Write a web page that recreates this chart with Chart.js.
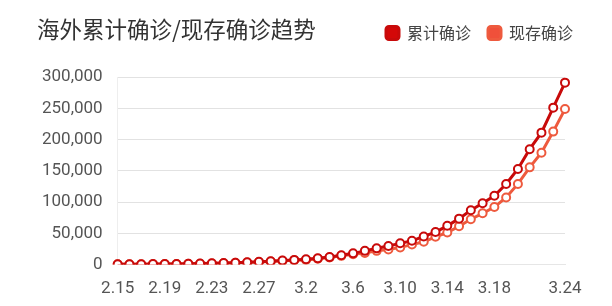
<!DOCTYPE html>
<html>
<head>
<meta charset="utf-8">
<script src="https://cdn.jsdelivr.net/npm/chart.js@4"></script>
<style>
  html, body { margin: 0; padding: 0; background: #fff; }
  #wrap { position: relative; width: 612px; height: 306px; }
  #title {
    position: absolute; left: 37px; top: 12px;
    font: 22.5px "Noto Sans CJK SC", sans-serif; color: #333;
  }
</style>
</head>
<body>
<div id="wrap">
  <div id="title">海外累计确诊/现存确诊趋势</div>
  <canvas id="trendChart" width="612" height="306"></canvas>
</div>
<script>
// 2.15 - 3.24
const dates = [
  '2.15','2.16','2.17','2.18','2.19','2.20','2.21','2.22','2.23','2.24',
  '2.25','2.26','2.27','2.28','2.29','3.1','3.2','3.3','3.4','3.5',
  '3.6','3.7','3.8','3.9','3.10','3.11','3.12','3.13','3.14','3.15',
  '3.16','3.17','3.18','3.19','3.20','3.21','3.22','3.23','3.24'
];
const totalConfirmed = [
  500, 600, 700, 800, 1000, 1100, 1300, 1600, 2000, 2500,
  3000, 3700, 4500, 5500, 6500, 7500, 8500, 10000, 12000, 15000,
  18000, 22000, 26000, 29700, 34000, 38000, 45000, 52000, 62000, 73500,
  86800, 98000, 110000, 129000, 153000, 184600, 211000, 251000, 291000
];
const currentConfirmed = [
  450, 550, 650, 750, 900, 1000, 1200, 1500, 1900, 2300,
  2800, 3400, 4200, 5100, 6000, 7000, 7500, 9500, 11500, 14000,
  16500, 18500, 22000, 24300, 27500, 32000, 36500, 44400, 51300, 61400,
  72500, 82000, 92000, 107400, 129000, 155500, 179000, 212700, 248700
];
const shownTicks = ['2.15','2.19','2.23','2.27','3.2','3.6','3.10','3.14','3.18','3.24'];

const ctx = document.getElementById('trendChart').getContext('2d');
const trendChart = new Chart(ctx, {
  type: 'line',
  data: {
    labels: dates,
    datasets: [{
      label: '累计确诊',
      data: totalConfirmed,
      borderColor: '#c80a0a',
      backgroundColor: '#d40808',
      pointBackgroundColor: '#fff',
      pointBorderColor: '#c80a0a',
      borderWidth: 3,
      pointRadius: 4,
      pointBorderWidth: 2
    }, {
      label: '现存确诊',
      data: currentConfirmed,
      borderColor: '#ee5a3e',
      backgroundColor: '#f0503a',
      pointBackgroundColor: '#fff',
      pointBorderColor: '#ee5a3e',
      borderWidth: 3,
      pointRadius: 4,
      pointBorderWidth: 2
    }]
  },
  options: {
    responsive: false,
    animation: false,
    layout: { padding: { left: 27, right: 22, top: 8, bottom: 1 } },
    plugins: {
      legend: {
        position: 'top',
        align: 'end',
        labels: {
          useBorderRadius: true,
          borderRadius: 3,
          boxWidth: 13,
          boxHeight: 13,
          padding: 17,
          color: '#444',
          font: { size: 16, family: '"Noto Sans CJK SC", sans-serif' }
        }
      },
      tooltip: { enabled: false }
    },
    scales: {
      x: {
        grid: { display: false },
        border: { color: '#e6e6e6' },
        afterFit: function (scale) { scale.paddingRight = 47; },
        ticks: {
          autoSkip: false,
          maxRotation: 0,
          padding: 6,
          color: '#555',
          font: { size: 17, family: 'Roboto, sans-serif' },
          callback: function (value, index) {
            const lbl = this.getLabelForValue(value);
            return shownTicks.includes(lbl) ? lbl : '';
          }
        }
      },
      y: {
        min: 0,
        max: 300000,
        ticks: {
          stepSize: 50000,
          padding: 15,
          color: '#555',
          font: { size: 17, family: 'Roboto, sans-serif' },
          callback: v => v.toLocaleString('en-US')
        },
        grid: { color: '#e2e2e2', drawTicks: false },
        border: { display: true, color: '#eeeeee' }
      }
    }
  },
  plugins: [{
    id: 'legendGap',
    beforeInit(chart) {
      const origFit = chart.legend.fit;
      chart.legend.fit = function () {
        origFit.bind(chart.legend)();
        this.height += 26;
      };
    }
  }]
});
</script>
</body>
</html>
